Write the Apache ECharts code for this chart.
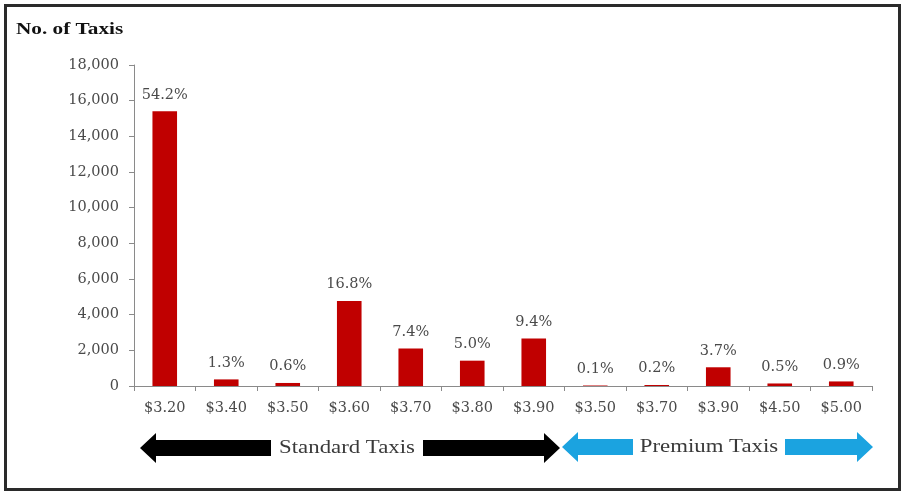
<!DOCTYPE html>
<html>
<head>
<meta charset="utf-8">
<script src="https://cdn.jsdelivr.net/npm/echarts@6/dist/echarts.min.js"></script>
<style>
  html, body { margin: 0; padding: 0; background: #fff; }
  #chart { width: 903px; height: 493px; }
</style>
</head>
<body>
<div id="chart"></div>
<script>
// Flag-fall fares, standard taxis first then premium taxis
const fares = ['$3.20', '$3.40', '$3.50', '$3.60', '$3.70', '$3.80', '$3.90',
               '$3.50', '$3.70', '$3.90', '$4.50', '$5.00'];
// Number of taxis charging each fare
const taxiCounts = [15400, 370, 170, 4770, 2100, 1420, 2670, 28, 57, 1050, 142, 256];
// Share of all taxis, shown above each bar
const shareLabels = ['54.2%', '1.3%', '0.6%', '16.8%', '7.4%', '5.0%', '9.4%',
                     '0.1%', '0.2%', '3.7%', '0.5%', '0.9%'];
const yTicks = { min: 0, max: 18000, interval: 2000 };
const groupNames = ['Standard Taxis', 'Premium Taxis'];

const serif = '"Liberation Serif", "Times New Roman", serif';
const wideSerif = '"DejaVu Serif", serif';
const textGrey = '#4a4a4a';
const chart = echarts.init(document.getElementById('chart'), null, { renderer: 'canvas' });

// Double-headed arrow as one polygon: tips at x1/x2, centred on y
function arrow(x1, x2, y, color) {
  const sh = 8, hh = 15, hl = 16;
  return {
    type: 'polygon', z: 10,
    shape: { points: [
      [x1, y], [x1 + hl, y - hh], [x1 + hl, y - sh], [x2 - hl, y - sh], [x2 - hl, y - hh],
      [x2, y], [x2 - hl, y + hh], [x2 - hl, y + sh], [x1 + hl, y + sh], [x1 + hl, y + hh]
    ] },
    style: { fill: color }
  };
}
// White gap in an arrow with the group name written in it
function gapLabel(x1, x2, y, text) {
  return [
    { type: 'rect', z: 11, shape: { x: x1, y: y - 17, width: x2 - x1, height: 34 }, style: { fill: '#fff' } },
    { type: 'text', z: 12, x: (x1 + x2) / 2, y: y, scaleX: 1.2,
      style: { text: text, font: '19px ' + serif, fill: '#3a3a3a', align: 'center', verticalAlign: 'middle' } }
  ];
}

chart.setOption({
  animation: false,
  grid: { left: 134, right: 31, top: 65, bottom: 107, containLabel: false },
  xAxis: {
    type: 'category',
    data: fares,
    boundaryGap: true,
    axisLine: { lineStyle: { color: '#8a8a8a', width: 1 } },
    axisTick: { show: true, inside: false, length: 5, alignWithLabel: false, lineStyle: { color: '#8a8a8a' } },
    axisLabel: { color: textGrey, fontFamily: wideSerif, fontSize: 14.5, margin: 15, interval: 0 }
  },
  yAxis: {
    type: 'value',
    min: yTicks.min, max: yTicks.max, interval: yTicks.interval,
    axisLine: { show: true, lineStyle: { color: '#8a8a8a', width: 1 } },
    axisTick: { show: true, length: 5, lineStyle: { color: '#8a8a8a' } },
    splitLine: { show: false },
    axisLabel: {
      color: textGrey, fontFamily: wideSerif, fontSize: 14.5, margin: 15,
      formatter: v => v.toLocaleString('en-US')
    }
  },
  series: [{
    type: 'bar',
    data: taxiCounts,
    barWidth: '40%',
    itemStyle: { color: '#c00000' },
    label: {
      show: true, position: 'top', distance: 9,
      color: textGrey, fontFamily: wideSerif, fontSize: 14.5,
      formatter: p => shareLabels[p.dataIndex]
    }
  }],
  graphic: [
    { type: 'rect', z: 1, shape: { x: 5.5, y: 5.5, width: 894, height: 484 },
      style: { fill: 'none', stroke: '#2a2a2a', lineWidth: 3 } },
    { type: 'text', z: 5, x: 16, y: 30, scaleX: 1.25,
      style: { text: 'No. of Taxis', font: 'bold 17px ' + serif, fill: '#111', verticalAlign: 'middle' } },
    arrow(140, 560, 448, '#000000'),
    ...gapLabel(271, 423, 448, groupNames[0]),
    arrow(562, 873, 447, '#1ba3e0'),
    ...gapLabel(633, 785, 447, groupNames[1])
  ]
});
</script>
</body>
</html>
